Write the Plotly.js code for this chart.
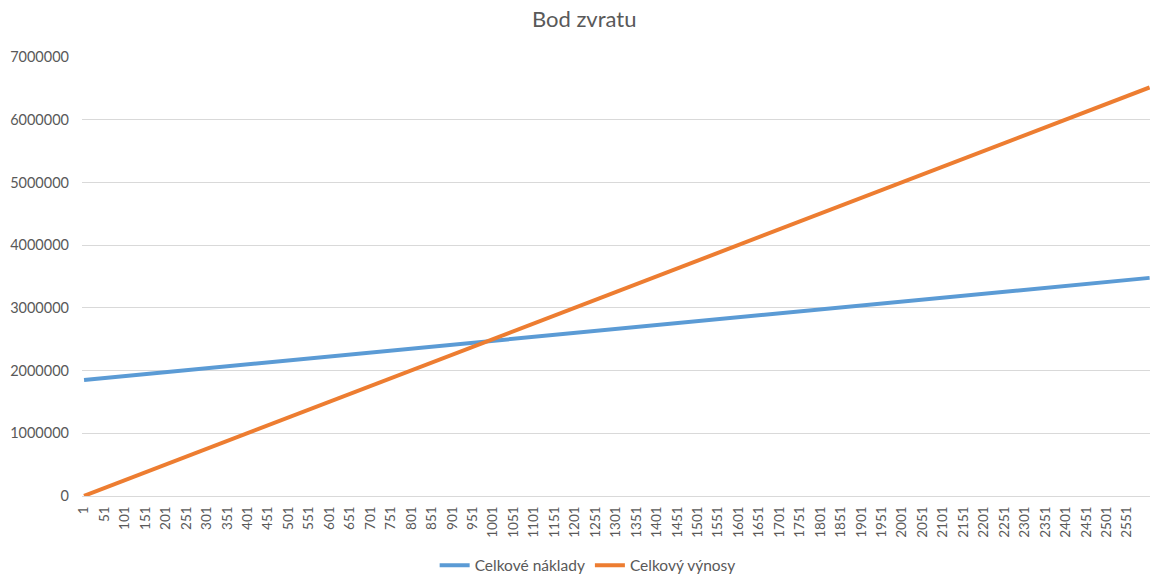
<!DOCTYPE html>
<html>
<head>
<meta charset="utf-8">
<script src="https://cdn.plot.ly/plotly-3.0.1.min.js"></script>
<style>html,body{margin:0;padding:0;background:#fff;}#chart{width:1150px;height:576px;}</style>
</head>
<body>
<div id="chart"></div>
<script>
const quantity = [1, 501, 1001, 1501, 2001, 2501, 2606];
// Celkové náklady (total costs)
const costs = [1850000, 2162000, 2475000, 2787000, 3100000, 3412000, 3478000];
// Celkový výnosy (total revenues)
const revenues = [2500, 1252000, 2502000, 3752000, 5002000, 6252000, 6515000];
const seriesNames = ["Celkové náklady", "Celkový výnosy"];
const chartTitle = "Bod zvratu";

const font = "Lato, 'Open Sans', sans-serif";
const traces = [
  {x: quantity, y: costs, name: seriesNames[0], type: "scatter", mode: "lines",
   line: {color: "#5B9BD5", width: 4}},
  {x: quantity, y: revenues, name: seriesNames[1], type: "scatter", mode: "lines",
   line: {color: "#ED7D31", width: 4}}
];
const layout = {
  width: 1150, height: 576,
  margin: {l: 82, r: 0, t: 57, b: 80},
  paper_bgcolor: "#fff", plot_bgcolor: "#fff",
  font: {family: font, color: "#595959", size: 12},
  title: {text: chartTitle, x: 0.508, xref: "container", y: 0.966, yref: "container", yanchor: "middle",
          font: {family: font, size: 22, color: "#595959"}},
  showlegend: true,
  legend: {orientation: "h", x: 0.511, xref: "container", xanchor: "center", y: 0.018, yref: "container", yanchor: "middle",
           font: {family: font, size: 15.5, color: "#595959"}},
  xaxis: {range: [-4, 2607], tick0: 1, dtick: 50, tickangle: -90, showgrid: false, zeroline: false,
          showline: true, linecolor: "#d9d9d9", linewidth: 1, ticks: "", ticklabelstandoff: 4,
          tickfont: {family: font, size: 13.5, color: "#595959"}, fixedrange: true},
  yaxis: {range: [0, 7000000], dtick: 1000000, tickformat: "d", showgrid: true, gridcolor: "#d9d9d9", gridwidth: 1,
          zeroline: false, showline: false, ticks: "", ticklabelstandoff: 12,
          tickfont: {family: font, size: 14.5, color: "#595959"}, fixedrange: true}
};
Plotly.newPlot("chart", traces, layout, {displayModeBar: false, staticPlot: true});
</script>
</body>
</html>
